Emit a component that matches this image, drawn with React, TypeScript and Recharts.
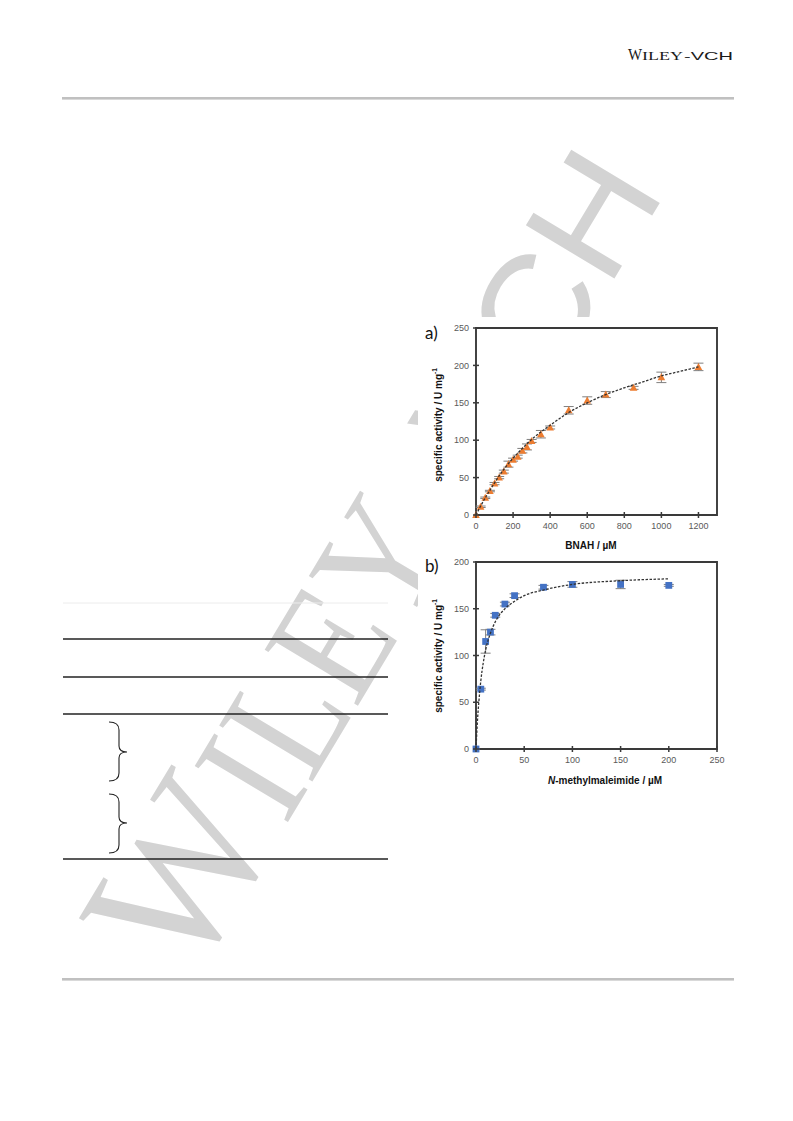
import React from 'react';
import { ScatterChart, Scatter, XAxis, YAxis, ErrorBar, ReferenceArea } from 'recharts';

// a) BNAH
const bnahConc = [0, 25, 50, 75, 100, 125, 150, 175, 200, 225, 250, 275, 300, 350, 400, 500, 600, 700, 850, 1000, 1200];
const bnahActivity = [0, 11, 23, 32, 42, 50, 58, 68, 74, 78, 86, 91, 99, 108, 117, 140, 153, 161, 170, 184, 198];
const bnahError = [0, 1, 1, 1, 1.5, 1.5, 2, 4, 2, 2, 3, 4, 2, 5, 2, 5, 5, 4, 2, 7, 5];
const bnahFitConc = [0, 25, 50, 75, 100, 150, 200, 250, 300, 350, 400, 500, 600, 700, 800, 900, 1000, 1100, 1200];
const bnahFitActivity = [0, 12, 23, 33, 43, 61, 76, 89, 101, 111, 120, 137, 150, 161, 170, 178, 186, 192, 198];
const bnahXTicks = [0, 200, 400, 600, 800, 1000, 1200];
const bnahYTicks = [0, 50, 100, 150, 200, 250];

// b) N-methylmaleimide
const nemConc = [0, 5, 10, 15, 20, 30, 40, 70, 100, 150, 200];
const nemActivity = [0, 64, 115, 125, 143, 155, 164, 173, 176, 176, 175];
const nemError = [0, 1, 12.5, 3, 2, 2, 2, 2, 3, 4.5, 1];
const nemFitConc = [0, 1, 2, 3, 5, 7.5, 10, 15, 20, 30, 40, 50, 70, 100, 150, 200];
const nemFitActivity = [0, 21, 38, 51, 73, 92, 106, 124, 136, 150, 158, 164, 170, 176, 180, 182];
const nemXTicks = [0, 50, 100, 150, 200, 250];
const nemYTicks = [0, 50, 100, 150, 200];

const CW = 317;
const CH = 240;
const PL = 58; // plot left inside chart svg
const PT = 10;
const PR = 18;
const XH = 43;
const PB = CH - XH;

const FRAME = '#3a3a3a';
const TICK_TEXT = '#595959';
const ORANGE = '#ED7D31';
const BLUE = '#4472C4';

const toPoints = (xs: number[], ys: number[], errs?: number[]) =>
    xs.map((x, i) => ({ x, y: ys[i], err: errs ? errs[i] : 0 }));

const Triangle = (p: any) => (
    <polygon
        points={`${p.cx},${p.cy - 4} ${p.cx - 3.8},${p.cy + 3} ${p.cx + 3.8},${p.cy + 3}`}
        fill={ORANGE}
    />
);

const Square = (p: any) => <rect x={p.cx - 3.4} y={p.cy - 3.4} width={6.8} height={6.8} fill={BLUE} />;

const NoShape = () => <g />;

const renderXTick = (props: any) => (
    <g>
        <line x1={props.x} x2={props.x} y1={PB - 3} y2={PB + 3} stroke={FRAME} strokeWidth={1.5} />
        <text
            x={props.x}
            y={PB + 11}
            dy="0.35em"
            textAnchor="middle"
            fontSize={9}
            fontFamily="Liberation Sans, Arial"
            fill={TICK_TEXT}
        >
            {props.payload.value}
        </text>
    </g>
);

const renderYTick = (props: any) => (
    <g>
        <line x1={PL - 3} x2={PL + 3} y1={props.y} y2={props.y} stroke={FRAME} strokeWidth={1.5} />
        <text
            x={PL - 7}
            y={props.y}
            dy="0.35em"
            textAnchor="end"
            fontSize={9}
            fontFamily="Liberation Sans, Arial"
            fill={TICK_TEXT}
        >
            {props.payload.value}
        </text>
    </g>
);

interface KineticsProps {
    points: { x: number; y: number; err: number }[];
    fit: { x: number; y: number; err: number }[];
    xDomain: [number, number];
    yDomain: [number, number];
    xTicks: number[];
    yTicks: number[];
    shape: any;
}

function KineticsChart({ points, fit, xDomain, yDomain, xTicks, yTicks, shape }: KineticsProps) {
    return (
        <ScatterChart width={CW} height={CH} margin={{ top: PT, right: PR, left: 0, bottom: 0 }}>
            <XAxis
                type="number"
                dataKey="x"
                domain={xDomain}
                ticks={xTicks}
                interval={0}
                height={XH}
                axisLine={false}
                tickLine={false}
                tick={renderXTick}
            />
            <YAxis
                type="number"
                dataKey="y"
                domain={yDomain}
                ticks={yTicks}
                interval={0}
                width={PL}
                axisLine={false}
                tickLine={false}
                tick={renderYTick}
            />
            <ReferenceArea
                x1={xDomain[0]}
                x2={xDomain[1]}
                y1={yDomain[0]}
                y2={yDomain[1]}
                fill="none"
                stroke={FRAME}
                strokeWidth={1.9}
                ifOverflow="visible"
            />
            <Scatter data={points} shape={shape} isAnimationActive={false}>
                <ErrorBar dataKey="err" direction="y" width={5} stroke="#7f7f7f" strokeWidth={1} />
            </Scatter>
            <Scatter
                data={fit}
                shape={NoShape}
                line={{ stroke: '#333', strokeWidth: 1.3, strokeDasharray: '2.5 1.5' }}
                lineJointType="monotoneX"
                isAnimationActive={false}
            />
        </ScatterChart>
    );
}

function PageDecor() {
    const tableLines = [639, 677, 714, 859];
    return (
        <svg width={793} height={1121} style={{ position: 'absolute', left: 0, top: 0 }}>
            {/* watermark */}
            <g transform="translate(190,985) rotate(-59)" fill="#d3d3d3">
                <text x={0} y={0} fontFamily="Liberation Serif" fontSize={198} textLength={180} lengthAdjust="spacingAndGlyphs">
                    W
                </text>
                <text x={185} y={0} fontFamily="Liberation Serif" fontSize={166} textLength={330} lengthAdjust="spacingAndGlyphs">
                    ILEY
                </text>
                <text x={540} y={0} fontFamily="Liberation Sans" fontSize={150} textLength={385} lengthAdjust="spacingAndGlyphs">
                    -VCH
                </text>
            </g>

            {/* header */}
            <text x={628} y={59.5} fontFamily="Liberation Serif" fontSize={16} fill="#1a1a1a" textLength={14} lengthAdjust="spacingAndGlyphs">
                W
            </text>
            <text x={642} y={59.5} fontFamily="Liberation Serif" fontSize={12} fill="#1a1a1a" textLength={41} lengthAdjust="spacingAndGlyphs">
                ILEY
            </text>
            <text x={684} y={59.5} fontFamily="Liberation Sans" fontSize={11.5} fill="#1a1a1a" textLength={49} lengthAdjust="spacingAndGlyphs">
                -VCH
            </text>
            <rect x={62} y={97} width={672} height={2.6} fill="#c0c0c0" />
            <rect x={62} y={978} width={672} height={2.6} fill="#c0c0c0" />

            {/* table rules */}
            <line x1={63} x2={388} y1={603} y2={603} stroke="#ececec" strokeWidth={1} />
            {tableLines.map((y) => (
                <line key={y} x1={63} x2={388} y1={y} y2={y} stroke="#222" strokeWidth={1.3} />
            ))}
            <path
                d="M109,722 Q119,722 119,730 L119,746 Q119,752 127,752 Q119,752 119,758 L119,773 Q119,781 109,781"
                fill="none"
                stroke="#222"
                strokeWidth={1.1}
            />
            <path
                d="M109,794 Q119,794 119,802 L119,817 Q119,823 127,823 Q119,823 119,829 L119,845 Q119,853 109,853"
                fill="none"
                stroke="#222"
                strokeWidth={1.1}
            />
        </svg>
    );
}

function FigureLabels() {
    const titleFont = 'Liberation Sans, Arial';
    return (
        <svg width={793} height={1121} style={{ position: 'absolute', left: 0, top: 0, pointerEvents: 'none' }}>
            <text x={425} y={339} fontFamily="Lato, Open Sans" fontSize={17} fill="#111">
                a)
            </text>
            <text x={425} y={572} fontFamily="Lato, Open Sans" fontSize={17} fill="#111">
                b)
            </text>
            <text
                transform="translate(438,425) rotate(-90)"
                textAnchor="middle"
                dominantBaseline="central"
                fontFamily={titleFont}
                fontWeight="bold"
                fontSize={10}
                fill="#111"
            >
                specific activity / U mg<tspan fontSize={6.5} dy={-4}>-1</tspan>
            </text>
            <text
                transform="translate(438,656) rotate(-90)"
                textAnchor="middle"
                dominantBaseline="central"
                fontFamily={titleFont}
                fontWeight="bold"
                fontSize={10}
                fill="#111"
            >
                specific activity / U mg<tspan fontSize={6.5} dy={-4}>-1</tspan>
            </text>
            <text x={591} y={545} dy="0.35em" textAnchor="middle" fontFamily={titleFont} fontWeight="bold" fontSize={10} fill="#111">
                BNAH / µM
            </text>
            <text x={605} y={780} dy="0.35em" textAnchor="middle" fontFamily={titleFont} fontWeight="bold" fontSize={10} fill="#111">
                <tspan fontStyle="italic">N</tspan>-methylmaleimide / µM
            </text>
        </svg>
    );
}

export default function App() {
    return (
        <div style={{ position: 'absolute', left: 0, top: 0, width: 793, height: 1121, background: '#fff', overflow: 'hidden' }}>
            <PageDecor />
            <div style={{ position: 'absolute', left: 418, top: 317, width: 322, height: 485, background: '#fff' }} />
            <div style={{ position: 'absolute', left: 418, top: 318 }}>
                <KineticsChart
                    points={toPoints(bnahConc, bnahActivity, bnahError)}
                    fit={toPoints(bnahFitConc, bnahFitActivity)}
                    xDomain={[0, 1300]}
                    yDomain={[0, 250]}
                    xTicks={bnahXTicks}
                    yTicks={bnahYTicks}
                    shape={Triangle}
                />
            </div>
            <div style={{ position: 'absolute', left: 418, top: 552 }}>
                <KineticsChart
                    points={toPoints(nemConc, nemActivity, nemError)}
                    fit={toPoints(nemFitConc, nemFitActivity)}
                    xDomain={[0, 250]}
                    yDomain={[0, 200]}
                    xTicks={nemXTicks}
                    yTicks={nemYTicks}
                    shape={Square}
                />
            </div>
            <FigureLabels />
        </div>
    );
}
